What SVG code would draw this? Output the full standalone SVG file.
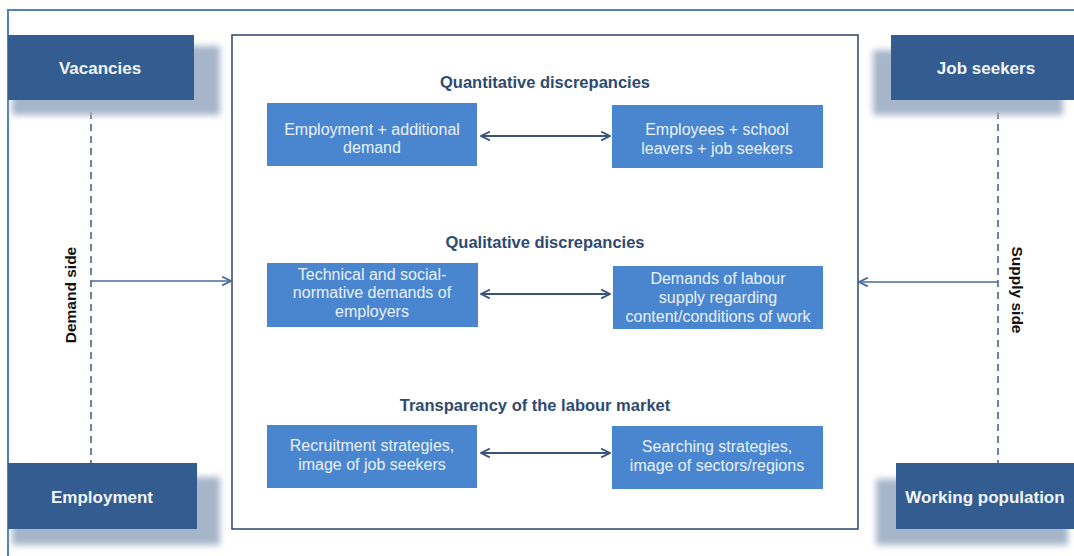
<svg xmlns="http://www.w3.org/2000/svg" width="1074" height="556" viewBox="0 0 1074 556">
  <defs>
    <filter id="soft" x="-20%" y="-30%" width="140%" height="160%">
      <feGaussianBlur stdDeviation="3"/>
    </filter>
    <marker id="chev" viewBox="0 0 10 10" refX="9" refY="5" markerWidth="11" markerHeight="11" markerUnits="userSpaceOnUse" orient="auto-start-reverse">
      <path d="M1,1 L9,5 L1,9" fill="none" stroke="context-stroke" stroke-width="1.6"/>
    </marker>
    <style>
      .frame { fill: none; stroke: #4f81bd; stroke-width: 2; }
      .panel { fill: #ffffff; stroke: #2c4468; stroke-width: 1.5; }
      .shadow { fill: #a7b5ca; filter: url(#soft); }
      .side { fill: #335d91; }
      .sideText { font-family: "Liberation Sans", Arial, sans-serif; font-size: 17px; font-weight: bold; fill: #f2f5fa; text-anchor: middle; }
      .item { fill: #4a86cf; }
      .itemText { font-family: "Liberation Sans", Arial, sans-serif; font-size: 16px; fill: #e9f1fb; text-anchor: middle; }
      .title { font-family: "Liberation Sans", Arial, sans-serif; font-size: 16.5px; font-weight: bold; fill: #2f4a70; text-anchor: middle; }
      .axis { font-family: "Liberation Sans", Arial, sans-serif; font-size: 15.5px; font-weight: bold; fill: #111111; text-anchor: middle; }
      .dash { fill: none; stroke: #3d5b82; stroke-width: 1.5; stroke-dasharray: 7 5; }
      .flow { fill: none; stroke: #4a6b98; stroke-width: 1.6; marker-end: url(#chev); }
      .both { fill: none; stroke: #3a5478; stroke-width: 2; marker-start: url(#chev); marker-end: url(#chev); }
    </style>
  </defs>

  <rect width="1074" height="556" fill="#ffffff"/>
  <rect class="frame" x="8" y="10" width="1090" height="570"/>

  <!-- central panel -->
  <rect id="panel" class="panel" x="232" y="35" width="626" height="494"/>

  <!-- connectors -->
  <g id="connectors">
    <line class="dash" x1="91" y1="100" x2="91" y2="463"/>
    <line class="dash" x1="998" y1="100" x2="998" y2="463"/>
    <path class="flow" d="M91,281 H231"/>
    <path class="flow" d="M998,282 H859"/>
    <path class="both" d="M481,136 H610"/>
    <path class="both" d="M481,294 H610"/>
    <path class="both" d="M481,453 H610"/>
  </g>

  <text class="axis" transform="translate(76,295) rotate(-90)">Demand side</text>
  <text class="axis" transform="translate(1012,290) rotate(90)">Supply side</text>

  <!-- demand side boxes -->
  <g id="vacancies">
    <rect class="shadow" x="12" y="46" width="208" height="69"/>
    <rect class="side" x="8" y="35" width="186" height="65"/>
    <text class="sideText" x="100" y="74">Vacancies</text>
  </g>
  <g id="employment">
    <rect class="shadow" x="12" y="477" width="208" height="68"/>
    <rect class="side" x="8" y="463" width="189" height="66"/>
    <text class="sideText" x="102" y="503">Employment</text>
  </g>

  <!-- supply side boxes -->
  <g id="job-seekers">
    <rect class="shadow" x="873" y="50" width="190" height="65"/>
    <rect class="side" x="891" y="35" width="190" height="65"/>
    <text class="sideText" x="986" y="74">Job seekers</text>
  </g>
  <g id="working-population">
    <rect class="shadow" x="876" y="479" width="192" height="66"/>
    <rect class="side" x="896" y="463" width="185" height="66"/>
    <text class="sideText" x="985" y="503">Working population</text>
  </g>

  <!-- section titles -->
  <text class="title" x="545" y="88">Quantitative discrepancies</text>
  <text class="title" x="545" y="248">Qualitative discrepancies</text>
  <text class="title" x="535" y="411">Transparency of the labour market</text>

  <!-- quantitative row -->
  <g id="employment-demand">
    <rect class="item" x="267" y="103" width="210" height="63"/>
    <text class="itemText" x="372" y="135">Employment + additional</text>
    <text class="itemText" x="372" y="153">demand</text>
  </g>
  <g id="employees-supply">
    <rect class="item" x="612" y="105" width="211" height="63"/>
    <text class="itemText" x="717" y="135">Employees + school</text>
    <text class="itemText" x="717" y="154">leavers + job seekers</text>
  </g>

  <!-- qualitative row -->
  <g id="employer-demands">
    <rect class="item" x="267" y="263" width="211" height="64"/>
    <text class="itemText" x="372" y="280">Technical and social-</text>
    <text class="itemText" x="372" y="298">normative demands of</text>
    <text class="itemText" x="372" y="317">employers</text>
  </g>
  <g id="supply-demands">
    <rect class="item" x="613" y="266" width="210" height="63"/>
    <text class="itemText" x="718" y="284">Demands of labour</text>
    <text class="itemText" x="718" y="303">supply regarding</text>
    <text class="itemText" x="718" y="322">content/conditions of work</text>
  </g>

  <!-- transparency row -->
  <g id="recruitment">
    <rect class="item" x="267" y="425" width="210" height="63"/>
    <text class="itemText" x="372" y="451">Recruitment strategies,</text>
    <text class="itemText" x="372" y="470">image of job seekers</text>
  </g>
  <g id="searching">
    <rect class="item" x="612" y="426" width="211" height="63"/>
    <text class="itemText" x="717" y="452">Searching strategies,</text>
    <text class="itemText" x="717" y="471">image of sectors/regions</text>
  </g>
</svg>
